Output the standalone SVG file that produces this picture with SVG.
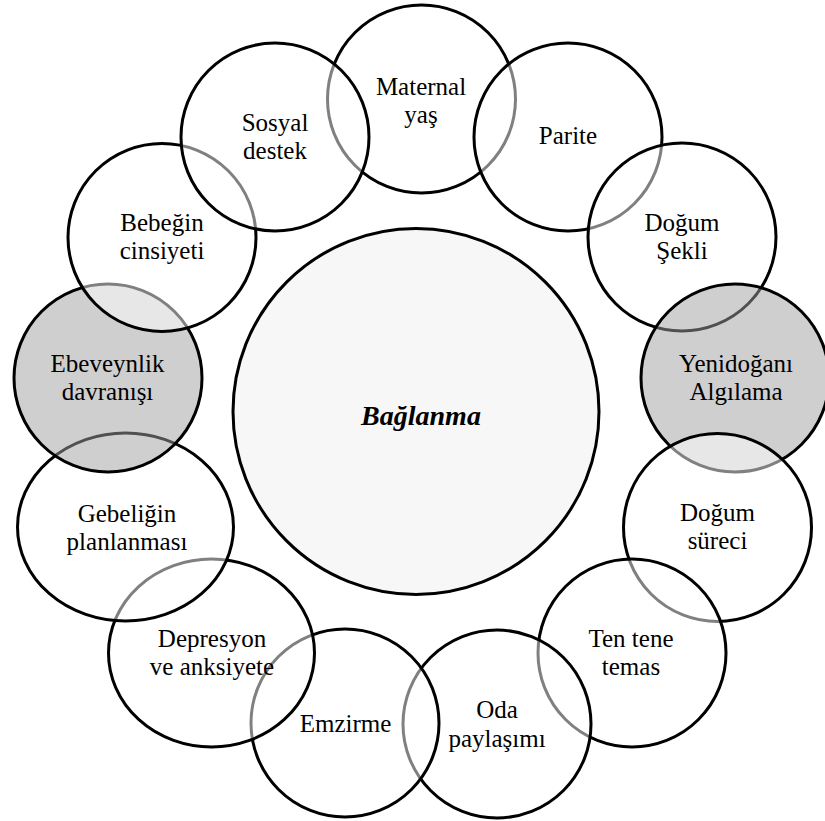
<svg xmlns="http://www.w3.org/2000/svg" width="825" height="821" viewBox="0 0 825 821" font-family="'Liberation Serif', 'Times New Roman', 'DejaVu Serif', 'Noto Serif', serif">
<style>
.bg{fill:#ffffff}
.c{fill:#ffffff;fill-opacity:0.5;stroke:#000;stroke-width:3}
.g{fill:#a0a0a0;fill-opacity:0.5;stroke:#000;stroke-width:3}
.m{fill:#f7f7f7;stroke:#000;stroke-width:3}
text{font-size:25px;fill:#000;text-anchor:middle}
.t{font-weight:bold;font-style:italic;font-size:28px}
</style>
<rect class="bg" x="0" y="0" width="825" height="821"/>
<g id="center">
<circle class="m" cx="416" cy="411.5" r="183"/>
<text class="t" x="421" y="425" font-family="'Liberation Serif', serif">Bağlanma</text>
</g>
<g id="maternal-yas">
<circle class="c" cx="421.5" cy="99" r="94"/>
<text x="421" y="95" font-family="'Liberation Serif', serif">Maternal</text>
<text x="421" y="123" font-family="'Liberation Serif', serif">yaş</text>
</g>
<g id="parite">
<circle class="c" cx="568" cy="137" r="94"/>
<text x="568" y="144" font-family="'Liberation Serif', serif">Parite</text>
</g>
<g id="dogum-sekli">
<circle class="c" cx="682" cy="237" r="94"/>
<text x="682" y="231" font-family="'Liberation Serif', serif">Doğum</text>
<text x="682" y="259" font-family="'Liberation Serif', serif">Şekli</text>
</g>
<g id="yenidogani-algilama">
<circle class="g" cx="735" cy="378" r="94"/>
<text x="736" y="372" font-family="'Liberation Serif', serif">Yenidoğanı</text>
<text x="736" y="400" font-family="'Liberation Serif', serif">Algılama</text>
</g>
<g id="dogum-sureci">
<circle class="c" cx="717.5" cy="527.5" r="94"/>
<text x="717.5" y="521" font-family="'Liberation Serif', serif">Doğum</text>
<text x="717.5" y="549" font-family="'Liberation Serif', serif">süreci</text>
</g>
<g id="ten-tene-temas">
<circle class="c" cx="632" cy="653" r="94"/>
<text x="631" y="647" font-family="'Liberation Serif', serif">Ten tene</text>
<text x="631" y="675" font-family="'Liberation Serif', serif">temas</text>
</g>
<g id="oda-paylasimi">
<circle class="c" cx="497" cy="724" r="94"/>
<text x="497" y="718" font-family="'Liberation Serif', serif">Oda</text>
<text x="497" y="747" font-family="'Liberation Serif', serif">paylaşımı</text>
</g>
<g id="emzirme">
<circle class="c" cx="345" cy="723" r="94"/>
<text x="345.5" y="732" font-family="'Liberation Serif', serif">Emzirme</text>
</g>
<g id="depresyon-ve-anksiyete">
<ellipse class="c" cx="211.5" cy="653" rx="103" ry="94"/>
<text x="212" y="647" font-family="'Liberation Serif', serif">Depresyon</text>
<text x="212" y="675" font-family="'Liberation Serif', serif">ve anksiyete</text>
</g>
<g id="gebeligin-planlanmasi">
<ellipse class="c" cx="125.5" cy="527" rx="108" ry="94"/>
<text x="127" y="522" font-family="'Liberation Serif', serif">Gebeliğin</text>
<text x="127" y="550" font-family="'Liberation Serif', serif">planlanması</text>
</g>
<g id="ebeveynlik-davranisi">
<circle class="g" cx="108" cy="378" r="94"/>
<text x="107.5" y="372" font-family="'Liberation Serif', serif">Ebeveynlik</text>
<text x="107.5" y="400" font-family="'Liberation Serif', serif">davranışı</text>
</g>
<g id="bebegin-cinsiyeti">
<circle class="c" cx="162" cy="237.5" r="94"/>
<text x="162" y="231" font-family="'Liberation Serif', serif">Bebeğin</text>
<text x="162" y="259" font-family="'Liberation Serif', serif">cinsiyeti</text>
</g>
<g id="sosyal-destek">
<circle class="c" cx="275" cy="137" r="94"/>
<text x="275" y="131" font-family="'Liberation Serif', serif">Sosyal</text>
<text x="275" y="159" font-family="'Liberation Serif', serif">destek</text>
</g>
<g id="connectors"></g>
</svg>
